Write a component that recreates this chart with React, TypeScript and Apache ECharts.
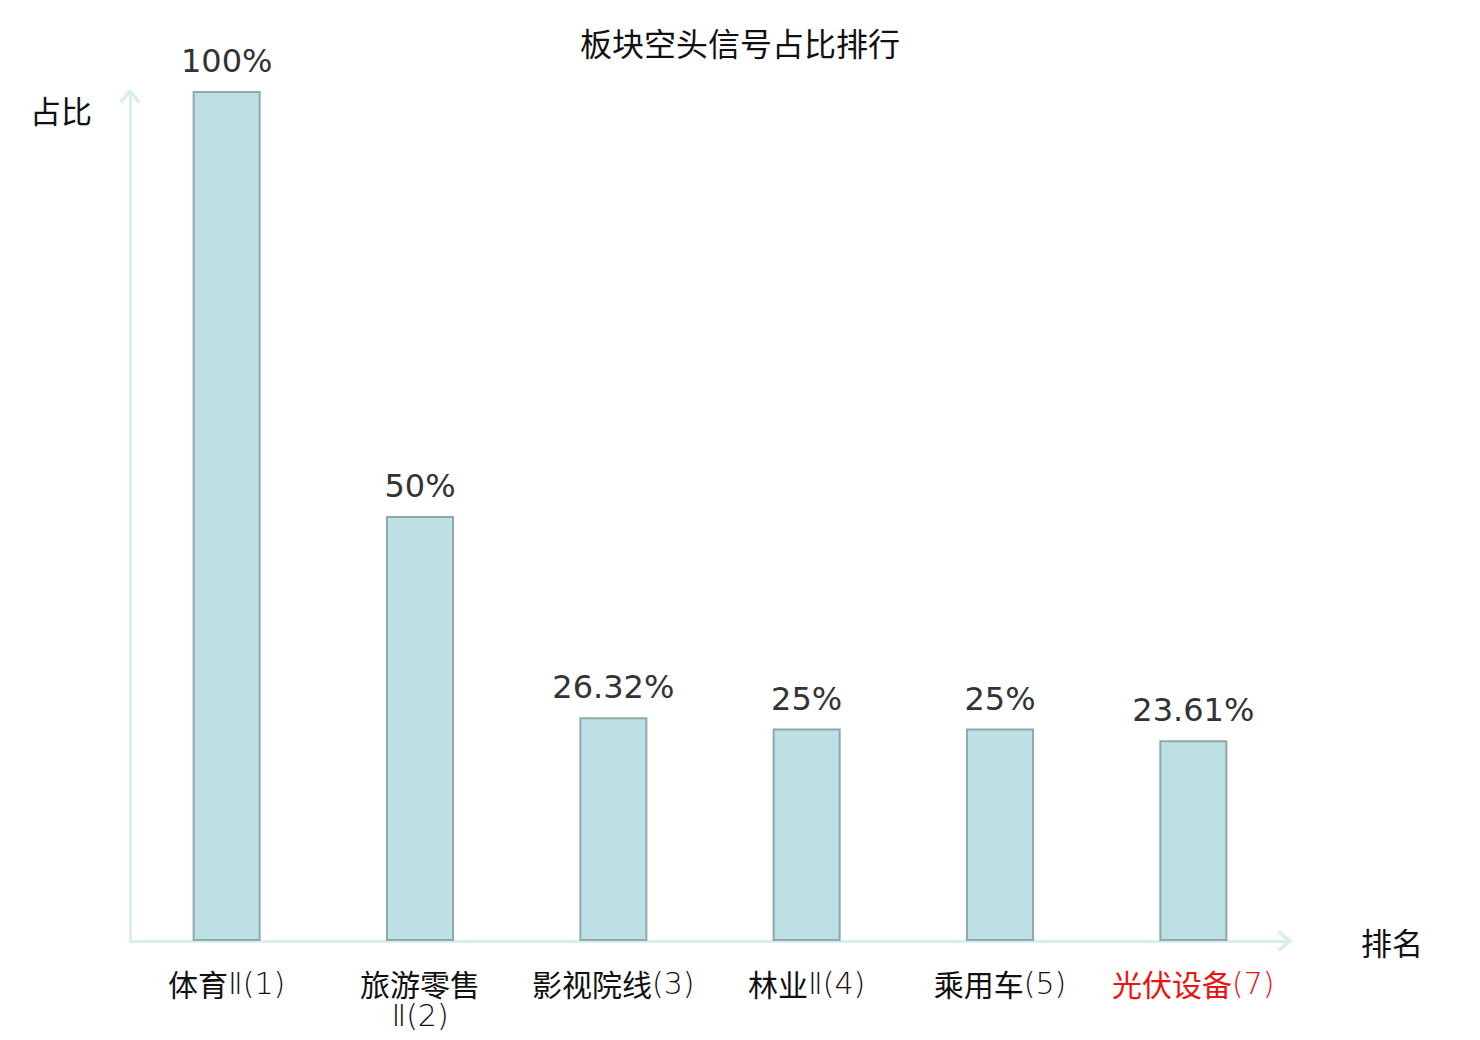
import React, { useEffect, useRef } from "react";
import * as echarts from "echarts";

const titleText = "板块空头信号占比排行";
const categories = ["体育Ⅱ(1)", "旅游零售\nⅡ(2)", "影视院线(3)", "林业Ⅱ(4)", "乘用车(5)", "光伏设备(7)"];
const values = [100, 50, 26.32, 25, 25, 23.61];
const highlightIndex = [5];
const yName = "占比";
const xName = "排名";

const chevron = "path://M0,12 L10,0 L20,12 L17.4,14 L10,5.2 L2.6,14 Z";

const cjkStyle = (color: string) => ({
  fontSize: 30,
  lineHeight: 32,
  fontFamily: "Noto Sans CJK SC",
  fontWeight: "normal",
  color,
});
const latinStyle = (color: string) => ({
  fontSize: 30,
  lineHeight: 32,
  fontFamily: "DejaVu Sans",
  fontWeight: 200,
  color,
});

function formatLabel(value: string, index: number) {
  const red = highlightIndex.includes(index);
  const c = red ? "cr" : "c";
  const l = red ? "lr" : "l";
  return value
    .split("\n")
    .map((line) =>
      (line.match(/[\u4e00-\u9fff]+|[^\u4e00-\u9fff]+/g) || [])
        .map((seg) => (/[\u4e00-\u9fff]/.test(seg) ? `{${c}|${seg}}` : `{${l}|${seg}}`))
        .join("")
    )
    .join("\n");
}

export default function App() {
  const ref = useRef<HTMLDivElement>(null);
  useEffect(() => {
    document.body.style.margin = "0";
    const chart = echarts.init(ref.current!, null, { renderer: "svg" });
    const axisLineStyle = { color: "#d9efec", width: 3 };
    chart.setOption({
      animation: false,
      backgroundColor: "#ffffff",
      title: {
        text: titleText,
        left: "center",
        top: 21,
        textStyle: { fontSize: 32, fontWeight: "normal", color: "#111", fontFamily: "Noto Sans CJK SC" },
      },
      grid: { left: 130, right: 190, top: 91, bottom: 99 },
      xAxis: {
        type: "category",
        data: categories,
        name: xName,
        nameGap: 71,
        nameTextStyle: { fontSize: 31, color: "#111", fontFamily: "Noto Sans CJK SC", padding: [0, 0, 4, 0] },
        axisLine: {
          show: true,
          lineStyle: axisLineStyle,
          symbol: ["none", chevron],
          symbolSize: [22, 15],
          symbolOffset: [0, -5],
        },
        axisTick: { show: false },
        axisLabel: {
          interval: 0,
          margin: 26,
          fontSize: 30,
          lineHeight: 32,
          color: "#111",
          formatter: formatLabel,
          rich: {
            c: cjkStyle("#111"),
            cr: cjkStyle("#ee1111"),
            l: latinStyle("#111"),
            lr: latinStyle("#ee1111"),
          },
        },
      },
      yAxis: {
        type: "value",
        min: 0,
        max: 100,
        name: yName,
        nameLocation: "end",
        nameGap: -18,
        nameTextStyle: {
          fontSize: 31,
          color: "#111",
          fontFamily: "Noto Sans CJK SC",
          align: "right",
          verticalAlign: "middle",
          padding: [0, 38, 0, 0],
        },
        axisLine: {
          show: true,
          lineStyle: axisLineStyle,
          symbol: ["none", chevron],
          symbolSize: [22, 15],
          symbolOffset: [0, -5],
        },
        axisTick: { show: false },
        axisLabel: { show: false },
        splitLine: { show: false },
      },
      series: [
        {
          type: "bar",
          data: values,
          barWidth: 68,
          itemStyle: { color: "#bce0e3", borderColor: "#8ea9ab", borderWidth: 2 },
          label: {
            show: true,
            position: "top",
            distance: 14,
            formatter: "{c}%",
            fontSize: 32,
            color: "#333",
            fontFamily: "DejaVu Sans",
          },
        },
      ],
    });
    return () => chart.dispose();
  }, []);
  return <div ref={ref} style={{ width: 1480, height: 1040 }} />;
}
